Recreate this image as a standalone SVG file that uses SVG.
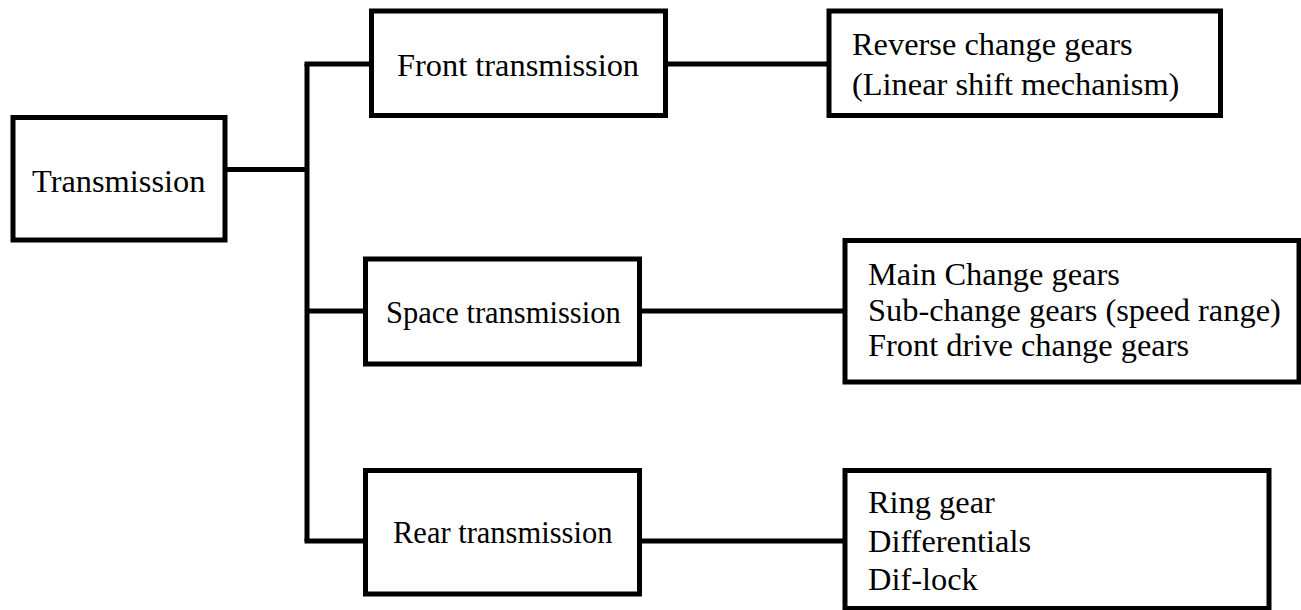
<svg xmlns="http://www.w3.org/2000/svg" width="1301" height="610" viewBox="0 0 1301 610">
<style>
.box{fill:#fff;stroke:#000;stroke-width:5}
.lbl{font-family:"Liberation Serif","Times New Roman",serif;font-size:32.4px;fill:#000}
.sm{font-size:30.5px}
.con{fill:none;stroke:#000;stroke-width:5}
</style>
<rect width="1301" height="610" fill="#fff"/>
<g id="connectors">
<path class="con" d="M225 169.5H307"/>
<path class="con" d="M307 64V541"/>
<path class="con" d="M304.5 64H371.5"/>
<path class="con" d="M307 311H365.5"/>
<path class="con" d="M304.5 541H365.5"/>
<path class="con" d="M665.5 64H829"/>
<path class="con" d="M639.5 311H845"/>
<path class="con" d="M639.5 541H845"/>
</g>
<g id="transmission">
<rect class="box" x="13" y="117.5" width="212" height="122.5"/>
<text class="lbl" x="32" y="192">Transmission</text>
</g>
<g id="front">
<rect class="box" x="371.5" y="11" width="294" height="104.5"/>
<text class="lbl" x="397" y="76">Front transmission</text>
</g>
<g id="reverse">
<rect class="box" x="829" y="11" width="391.5" height="104.5"/>
<text class="lbl" x="852" y="55">Reverse change gears</text>
<text class="lbl" x="852" y="95">(Linear shift mechanism)</text>
</g>
<g id="space">
<rect class="box" x="365.5" y="259" width="274" height="105"/>
<text class="lbl sm" x="386" y="323">Space transmission</text>
</g>
<g id="main">
<rect class="box" x="845" y="240.5" width="454" height="141.5"/>
<text class="lbl" x="868" y="285">Main Change gears</text>
<text class="lbl" x="868" y="320.5">Sub-change gears (speed range)</text>
<text class="lbl" x="868" y="356">Front drive change gears</text>
</g>
<g id="rear">
<rect class="box" x="365.5" y="470.5" width="274" height="123.5"/>
<text class="lbl sm" x="393" y="543">Rear transmission</text>
</g>
<g id="ring">
<rect class="box" x="845" y="470.5" width="424" height="138"/>
<text class="lbl" x="868" y="513">Ring gear</text>
<text class="lbl" x="868" y="552">Differentials</text>
<text class="lbl" x="868" y="590">Dif-lock</text>
</g>
</svg>
